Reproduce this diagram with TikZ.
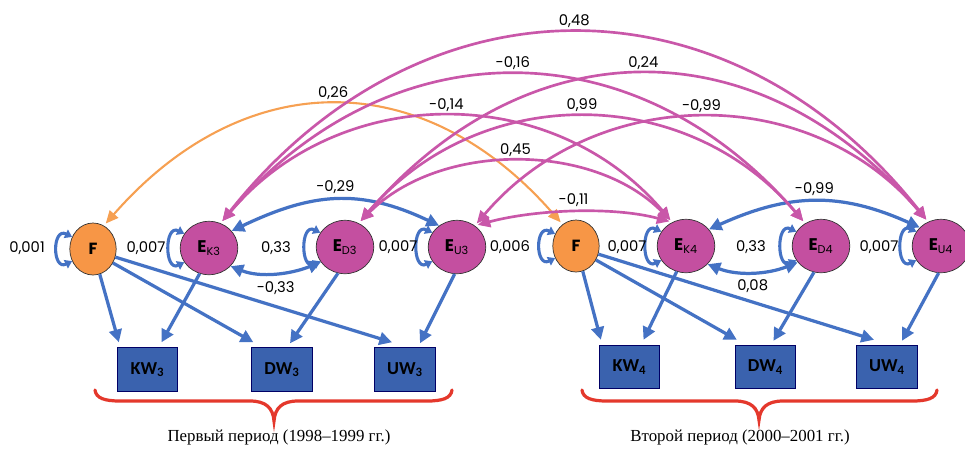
\documentclass[tikz,border=0pt]{standalone}
\usepackage{fontspec}
\setmainfont{Liberation Serif}
\newfontfamily\labelfont{Poppins}
\newfontfamily\boxfont{Carlito}
\usetikzlibrary{positioning,arrows.meta,calc,shapes.geometric}

\definecolor{lineblue}{HTML}{4472C4}
\definecolor{boxblue}{HTML}{3A62AE}
\definecolor{errpink}{HTML}{C44FA0}
\definecolor{arcpink}{HTML}{C957A9}
\definecolor{facorange}{HTML}{F79646}
\definecolor{arcorange}{HTML}{F6A052}
\definecolor{bracered}{HTML}{E4382C}

\begin{document}
\begin{tikzpicture}[x=0.025cm, y=0.025cm,
factor/.style={ellipse, draw=black!80, line width=0.5pt, fill=facorange, minimum width=33pt, minimum height=37pt, inner sep=0pt, font=\labelfont\fontsize{11.5}{13}\selectfont\bfseries},
errnode/.style={ellipse, draw=black!80, line width=0.5pt, fill=errpink, minimum width=41pt, minimum height=38pt, inner sep=0pt, font=\labelfont\fontsize{12}{14}\selectfont},
wnode/.style={rectangle, draw=black!60!blue, line width=0.6pt, fill=boxblue, minimum width=43pt, minimum height=31pt, inner sep=0pt, font=\boxfont\fontsize{13}{15}\selectfont\bfseries},
coef/.style={font=\labelfont\fontsize{10.5}{12}\selectfont, inner sep=1pt},
caption/.style={font=\fontsize{12}{14}\selectfont, inner sep=0pt},
effect/.style={draw=lineblue, line width=2.3pt, -{Triangle[length=9pt,width=9pt]}},
cov/.style={draw=lineblue, line width=2.3pt, {Triangle[length=9pt,width=9pt]}-{Triangle[length=9pt,width=9pt]}},
varloop/.style={draw=lineblue, line width=2.2pt, {Triangle[length=5pt,width=6.5pt]}-{Triangle[length=5pt,width=6.5pt]}},
pinkarc/.style={draw=arcpink, line width=1.9pt, shorten <=2pt, shorten >=2pt, {Triangle[length=9pt,width=8pt]}-{Triangle[length=9pt,width=8pt]}},
facarc/.style={draw=arcorange, line width=1.5pt, shorten <=2pt, shorten >=2pt, {Triangle[length=9pt,width=8pt]}-{Triangle[length=9pt,width=8pt]}},
bracestyle/.style={draw=bracered, line width=2.3pt, line cap=round},
]
\useasboundingbox (0,0) rectangle (965,-449);

%Nodes
\node[factor]  (F3)  at (93,-249)  {F};
\node[errnode] (EK3) at (209,-248) {{\bfseries E}\textsubscript{K3}};
\node[errnode] (ED3) at (345,-247) {{\bfseries E}\textsubscript{D3}};
\node[errnode] (EU3) at (457,-247) {{\bfseries E}\textsubscript{U3}};
\node[factor]  (F4)  at (576,-246) {F};
\node[errnode] (EK4) at (686,-246) {{\bfseries E}\textsubscript{K4}};
\node[errnode] (ED4) at (821,-246) {{\bfseries E}\textsubscript{D4}};
\node[errnode] (EU4) at (941,-246) {{\bfseries E}\textsubscript{U4}};

\node[wnode] (KW3) at (147.5,-369.5) {KW\textsubscript{3}};
\node[wnode] (DW3) at (282,-369.5)   {DW\textsubscript{3}};
\node[wnode] (UW3) at (405,-369.5)   {UW\textsubscript{3}};
\node[wnode] (KW4) at (629.5,-367)   {KW\textsubscript{4}};
\node[wnode] (DW4) at (765.5,-367)   {DW\textsubscript{4}};
\node[wnode] (UW4) at (887,-367)     {UW\textsubscript{4}};

%Variances
\draw[varloop] (F3.150) .. controls +(-20,10) and +(-20,-10) .. (F3.210);
\draw[varloop] (EK3.150) .. controls +(-20,10) and +(-20,-10) .. (EK3.210);
\draw[varloop] (ED3.150) .. controls +(-20,10) and +(-20,-10) .. (ED3.210);
\draw[varloop] (EU3.150) .. controls +(-20,10) and +(-20,-10) .. (EU3.210);
\draw[varloop] (F4.150) .. controls +(-20,10) and +(-20,-10) .. (F4.210);
\draw[varloop] (EK4.150) .. controls +(-20,10) and +(-20,-10) .. (EK4.210);
\draw[varloop] (ED4.150) .. controls +(-20,10) and +(-20,-10) .. (ED4.210);
\draw[varloop] (EU4.150) .. controls +(-20,10) and +(-20,-10) .. (EU4.210);

\node[coef] (vF3)  at (27,-248)  {0,001};
\node[coef] (vEK3) at (146,-248) {0,007};
\node[coef] (vED3) at (276,-248) {0,33};
\node[coef] (vEU3) at (398,-247) {0,007};
\node[coef] (vF4)  at (510,-247) {0,006};
\node[coef] (vEK4) at (627,-247) {0,007};
\node[coef] (vED4) at (751,-247) {0,33};
\node[coef] (vEU4) at (879,-247) {0,007};

%Lines
\draw[effect] (F3.-75) -- ($(KW3.north west)+(2,5)$);
\draw[effect] (F3.-35) -- ($(DW3.north west)+(2,5)$);
\draw[effect] (F3.-20) -- ($(UW3.north)+(-13,5)$);
\draw[effect] (EK3.-110) -- ($(KW3.north)+(14,5)$);
\draw[effect] (ED3.-105) -- ($(DW3.north)+(8,4)$);
\draw[effect] (EU3.-95) -- ($(UW3.north)+(15,4)$);

\draw[effect] (F4.-75) -- ($(KW4.north west)+(2,5)$);
\draw[effect] (F4.-35) -- ($(DW4.north west)+(2,5)$);
\draw[effect] (F4.-20) -- ($(UW4.north)+(-13,5)$);
\draw[effect] (EK4.-110) -- ($(KW4.north)+(14,5)$);
\draw[effect] (ED4.-105) -- ($(DW4.north)+(8,4)$);
\draw[effect] (EU4.-95) -- ($(UW4.north)+(15,4)$);

\draw[cov] (EK3.37) .. controls +(80,38) and +(-80,38) .. (EU3.130) node[coef, pos=0.5, above=2pt] (cK3U3) {-0,29};
\draw[cov] (EK3.-40) .. controls +(30,-12) and +(-30,-12) .. (ED3.212) node[coef, pos=0.5, below=4pt] (cK3D3) {-0,33};
\draw[cov] (EK4.36) .. controls +(80,36) and +(-80,36) .. (EU4.139) node[coef, pos=0.5, above=2pt] (cK4U4) {-0,99};
\draw[cov] (EK4.-40) .. controls +(30,-12) and +(-30,-12) .. (ED4.215) node[coef, pos=0.5, below=3pt] (cK4D4) {0,08};

\draw[facarc] (F3.65) .. controls +(140,160) and +(-140,160) .. (F4.122) node[coef, pos=0.5, above=2pt] (cF3F4) {0,26};

\draw[pinkarc] (EK3.65) .. controls +(200,252) and +(-200,252) .. (EU4.118) node[coef, pos=0.5, above=2pt] (cK3U4) {0,48};
\draw[pinkarc] (EK3.65) .. controls +(170,197) and +(-170,197) .. (ED4.125) node[coef, pos=0.5, above=2pt] (cK3D4) {-0,16};
\draw[pinkarc] (ED3.60) .. controls +(170,197) and +(-170,197) .. (EU4.118) node[coef, pos=0.5, above=2pt] (cD3U4) {0,24};
\draw[pinkarc] (EK3.65) .. controls +(120,141) and +(-120,141) .. (EK4.120) node[coef, pos=0.5, above=2pt] (cK3K4) {-0,14};
\draw[pinkarc] (ED3.60) .. controls +(120,141) and +(-120,141) .. (ED4.125) node[coef, pos=0.5, above=2pt] (cD3D4) {0,99};
\draw[pinkarc] (EU3.50) .. controls +(120,141) and +(-120,141) .. (EU4.118) node[coef, pos=0.5, above=2pt] (cU3U4) {-0,99};
\draw[pinkarc] (ED3.60) .. controls +(80,81) and +(-80,81) .. (EK4.120) node[coef, pos=0.5, above=2pt] (cD3K4) {0,45};
\draw[pinkarc] (EU3.50) .. controls +(60,16) and +(-60,16) .. (EK4.120) node[coef, pos=0.5, above=2pt] (cU3K4) {-0,11};

%Braces
\draw[bracestyle] (95,-390) .. controls (96,-398) and (104,-401) .. (120,-401) -- (250,-401)
  .. controls (266,-401) and (273,-408) .. (274,-421) .. controls (275,-408) and (282,-401) .. (298,-401)
  -- (427,-401) .. controls (443,-401) and (451,-398) .. (452,-390);
\draw[bracestyle] (582,-390) .. controls (583,-398) and (591,-401) .. (607,-401) -- (735,-401)
  .. controls (751,-401) and (758,-408) .. (759,-420) .. controls (760,-408) and (767,-401) .. (783,-401)
  -- (912,-401) .. controls (928,-401) and (936,-398) .. (937,-390);

\node[caption] (per3) at (279,-437) {Первый период (1998–1999 гг.)};
\node[caption] (per4) at (740,-437) {Второй период (2000–2001 гг.)};

\end{tikzpicture}
\end{document}
